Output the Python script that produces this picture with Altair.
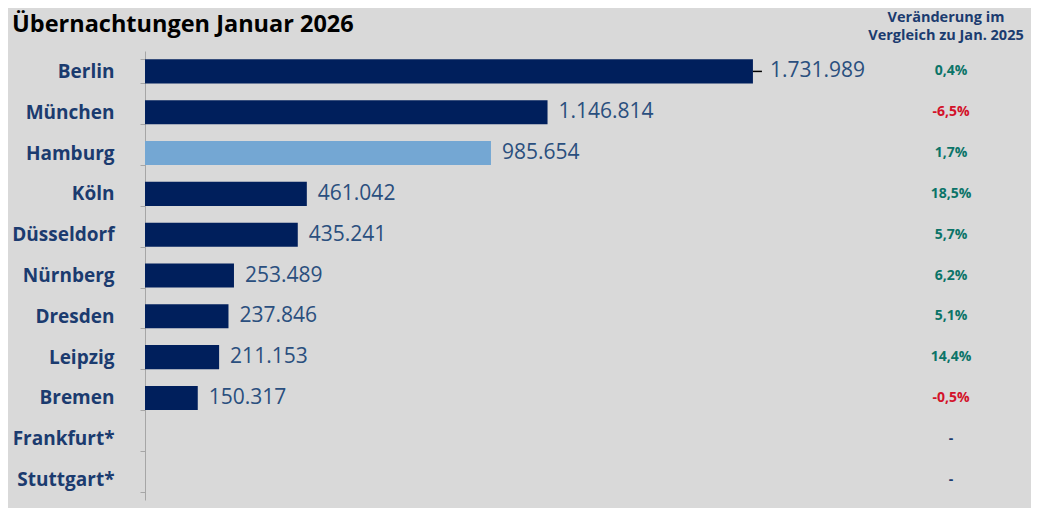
import altair as alt
import pandas as pd

cities = ["Berlin", "München", "Hamburg", "Köln", "Düsseldorf", "Nürnberg",
          "Dresden", "Leipzig", "Bremen", "Frankfurt*", "Stuttgart*"]
values = [1731989, 1146814, 985654, 461042, 435241, 253489, 237846, 211153, 150317, None, None]
labels = ["1.731.989", "1.146.814", "985.654", "461.042", "435.241", "253.489",
          "237.846", "211.153", "150.317", "", ""]
changes = ["0,4%", "-6,5%", "1,7%", "18,5%", "5,7%", "6,2%", "5,1%", "14,4%", "-0,5%", "-", "-"]
change_kind = ["pos", "neg", "pos", "pos", "pos", "pos", "pos", "pos", "neg", "none", "none"]
highlight = ["no", "no", "yes", "no", "no", "no", "no", "no", "no", "no", "no"]
leader = [True] + [False] * 10

df = pd.DataFrame({"city": cities, "value": values, "label": labels,
                   "change": changes, "kind": change_kind, "hl": highlight,
                   "leader": leader})

FONT = "Open Sans"
NAVY = "#1b3b6f"

y_enc = alt.Y("city:N", sort=cities,
              scale=alt.Scale(paddingInner=0.41, paddingOuter=0.205),
              axis=alt.Axis(title=None, tickBand="extent", domainColor="#a6a6a6",
                            tickColor="#a6a6a6", tickSize=5, labelPadding=26,
                            labelFont=FONT, labelFontSize=19, labelFontWeight="bold",
                            labelColor=NAVY, grid=False))
y_plain = alt.Y("city:N", sort=cities)
x_scale = alt.Scale(domain=[0, 2000000])

base = alt.Chart(df)

bars = base.mark_bar().encode(
    x=alt.X("value:Q", scale=x_scale, axis=None),
    y=y_enc,
    fill=alt.Fill("hl:N", scale=alt.Scale(domain=["no", "yes"], range=["#001f5c", "#74a7d3"]), legend=None),
)

lead = base.transform_filter("datum.leader").mark_rule(
    color="black", strokeWidth=1.5, x2Offset=9).encode(
    x=alt.X("value:Q", scale=x_scale),
    x2=alt.X2("value"),
    y=y_plain,
)

vals = base.transform_filter("!datum.leader").mark_text(
    align="left", baseline="middle", font=FONT, fontSize=21, color="#2a4f7e", dx=11).encode(
    x=alt.X("value:Q", scale=x_scale),
    y=y_plain,
    text="label:N",
)

vals_lead = base.transform_filter("datum.leader").mark_text(
    align="left", baseline="middle", font=FONT, fontSize=21, color="#2a4f7e", dx=17).encode(
    x=alt.X("value:Q", scale=x_scale),
    y=y_plain,
    text="label:N",
)

pct = base.mark_text(align="center", baseline="middle", font=FONT, fontSize=14,
                     fontWeight="bold").encode(
    x=alt.value(806),
    y=y_plain,
    text="change:N",
    color=alt.Color("kind:N", scale=alt.Scale(domain=["pos", "neg", "none"],
                                               range=["#0b7468", "#d3122a", NAVY]), legend=None),
)

header = alt.Chart(pd.DataFrame({"h": [0]})).mark_text(
    text=["Veränderung im", "Vergleich zu Jan. 2025"], align="center", baseline="middle",
    font=FONT, fontSize=14.5, fontWeight="bold", color=NAVY, lineHeight=18,
).encode(x=alt.value(801), y=alt.value(-33))

title = alt.Chart(pd.DataFrame({"h": [0]})).mark_text(
    text="Übernachtungen Januar 2026", align="left", baseline="alphabetic",
    font=FONT, fontSize=23.5, fontWeight="bold", color="black",
).encode(x=alt.value(-133), y=alt.value(-19))

chart = alt.layer(bars, lead, vals, vals_lead, pct, header, title).resolve_scale(
    color="independent", fill="independent"
).properties(
    width=702, height=449,
    autosize=alt.AutoSizeParams(type="none"),
    padding={"left": 137, "top": 43, "right": 184, "bottom": 8},
    background="#d9d9d9",
).configure_view(stroke=None)

chart.save("out.html", embed_options={"renderer": "svg", "actions": False})
